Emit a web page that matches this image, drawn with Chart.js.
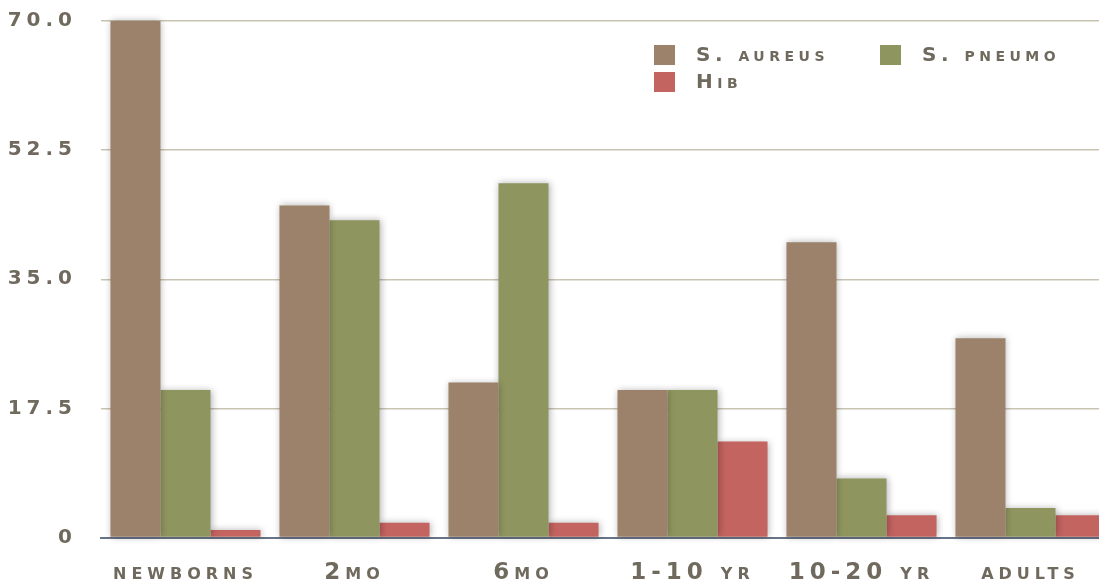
<!DOCTYPE html>
<html>
<head>
<meta charset="utf-8">
<script src="https://cdn.jsdelivr.net/npm/chart.js@4"></script>
<style>
  html, body { margin: 0; padding: 0; background: #fff; overflow: hidden; }
  canvas { display: block; }
</style>
</head>
<body>
<canvas id="ageChart" width="1115" height="580"></canvas>
<script>
// Data
const categories = ["newborns", "2mo", "6mo", "1-10 yr", "10-20 yr", "adults"];
const seriesNames = ["S. aureus", "S. pneumo", "Hib"];
const sAureus = [70, 45, 21, 20, 40, 27];
const sPneumo = [20, 43, 48, 20, 8, 4];
const hib = [1, 2, 2, 13, 3, 3];
const yTicks = [0, 17.5, 35, 52.5, 70];

const colors = ["#9c826a", "#8e955e", "#c46461"];
const textColor = "#6f6a5d";
const family = "'DejaVu Sans', sans-serif";

// letter spacing for the wide lettering
const spacing = {
  id: "spacing",
  beforeDraw(chart) { chart.ctx.letterSpacing = "5px"; }
};

// soft shadow under the bars
const barShadow = {
  id: "barShadow",
  beforeDatasetsDraw(chart) {
    const ctx = chart.ctx;
    ctx.save();
    ctx.shadowColor = "rgba(0,0,0,0.3)";
    ctx.shadowBlur = 7;
    ctx.shadowOffsetX = 1;
    ctx.shadowOffsetY = 0;
  },
  afterDatasetsDraw(chart) { chart.ctx.restore(); }
};

// legend in the top right corner, two columns
const cornerLegend = {
  id: "cornerLegend",
  afterDraw(chart) {
    const ctx = chart.ctx;
    const left = chart.chartArea.right - 461;
    const top = chart.chartArea.top + 24;
    ctx.save();
    ctx.font = "small-caps bold 20px " + family;
    ctx.letterSpacing = "4.5px";
    ctx.textBaseline = "middle";
    ctx.textAlign = "left";
    chart.data.datasets.forEach((ds, i) => {
      const x = left + (i % 2) * 226;
      const y = top + Math.floor(i / 2) * 27;
      ctx.fillStyle = ds.backgroundColor;
      ctx.fillRect(x, y, 21, 20);
      ctx.fillStyle = textColor;
      ctx.fillText(ds.label, x + 42, y + 11);
    });
    ctx.restore();
  }
};

new Chart(document.getElementById("ageChart"), {
  type: "bar",
  data: {
    labels: categories,
    datasets: [
      { label: seriesNames[0], data: sAureus, backgroundColor: colors[0] },
      { label: seriesNames[1], data: sPneumo, backgroundColor: colors[1] },
      { label: seriesNames[2], data: hib, backgroundColor: colors[2] }
    ]
  },
  options: {
    responsive: false,
    animation: false,
    layout: { padding: { top: 21, right: 0, bottom: 0, left: 0 } },
    datasets: { bar: { barPercentage: 1, categoryPercentage: 0.888, clip: false } },
    plugins: {
      legend: { display: false },
      tooltip: { enabled: false }
    },
    scales: {
      x: {
        grid: { display: false },
        border: { display: true, color: "#687387", width: 2 },
        ticks: {
          color: textColor,
          padding: 14,
          maxRotation: 0,
          autoSkip: false,
          font: { family: family, size: 23, weight: "small-caps bold" }
        },
        afterFit(scale) { scale.height = 42.5; }
      },
      y: {
        min: 0,
        max: 70,
        afterBuildTicks(scale) { scale.ticks = yTicks.map(v => ({ value: v })); },
        grid: {
          color: ctx => ctx.tick.value === 0 ? "rgba(0,0,0,0)" : "#c9c3b3",
          lineWidth: 1.5,
          drawTicks: false
        },
        border: { display: false },
        ticks: {
          color: textColor,
          padding: 24,
          font: { family: family, size: 20, weight: "bold" },
          callback: v => v === 0 ? "0" : v.toFixed(1)
        },
        afterFit(scale) {
          scale.width = 101;
          scale.paddingTop = 0;
          scale.paddingBottom = 0;
        }
      }
    }
  },
  plugins: [spacing, barShadow, cornerLegend]
});
</script>
</body>
</html>
